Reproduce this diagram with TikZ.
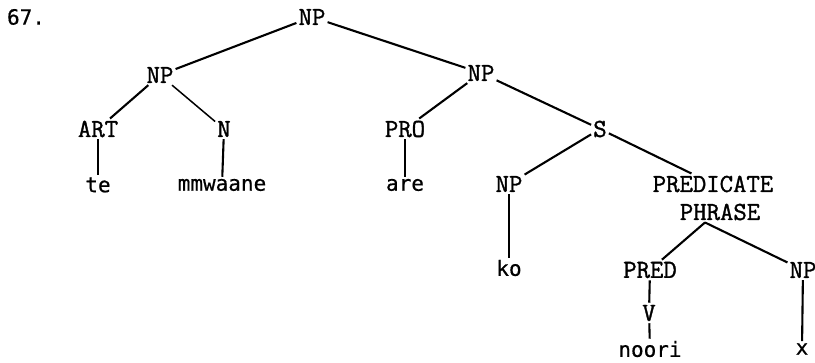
\documentclass[tikz,border=0pt]{standalone}
\usepackage{fontspec}
\newfontfamily\catfont[FakeBold=1.3]{Latin Modern Mono}
\newfontfamily\wordfont[FakeBold=0.6]{DejaVu Sans Mono}
\begin{document}
\begin{tikzpicture}[x=1pt,y=-1pt,
  cat/.style={font=\catfont\fontsize{26}{27}\selectfont, inner sep=2pt},
  word/.style={font=\wordfont\fontsize{21}{24}\selectfont, inner sep=2pt},
  br/.style={line width=2.1pt}]
\useasboundingbox (0,0) rectangle (815,363);
\node[word] (num) at (26,17) {67.};
\node[cat] (np0) at (312,17) {NP};
\node[cat] (np1) at (160,75) {NP};
\node[cat] (art) at (98,129) {ART};
\node[cat] (n) at (224,129) {N};
\node[word] (te) at (98,185) {te};
\node[word] (mm) at (222,185) {mmwaane};
\node[cat] (np2) at (481,73) {NP};
\node[cat] (pro) at (405,129) {PRO};
\node[word] (are) at (405,185) {are};
\node[cat] (s) at (600,129) {S};
\node[cat] (np3) at (509,184) {NP};
\node[word] (ko) at (509,268) {ko};
\node[cat] (pred1) at (713,184) {PREDICATE};
\node[cat] (pred2) at (720,212) {PHRASE};
\node[cat] (predn) at (650,270) {PRED};
\node[cat] (v) at (649,313) {V};
\node[word] (noori) at (650,349) {noori};
\node[cat] (np4) at (803,270) {NP};
\node[word] (x) at (802,349) {x};
\draw[br] (np0) -- (np1);
\draw[br] (np0) -- (np2);
\draw[br] (np1) -- (art);
\draw[br,line width=1.5pt] (np1) -- (n);
\draw[br] (art) -- (te);
\draw[br] (n) -- (mm);
\draw[br] (np2) -- (pro);
\draw[br] (np2) -- (s);
\draw[br] (pro) -- (are);
\draw[br] (s) -- (np3);
\draw[br] (s) -- (pred1);
\draw[br] (np3) -- (ko);
\draw[br] ([xshift=-15pt]pred2.south) -- (predn);
\draw[br] ([xshift=-15pt]pred2.south) -- (np4);
\draw[br] (predn) -- (v);
\draw[br] (v) -- (noori);
\draw[br] (np4) -- (x);
\end{tikzpicture}
\end{document}
